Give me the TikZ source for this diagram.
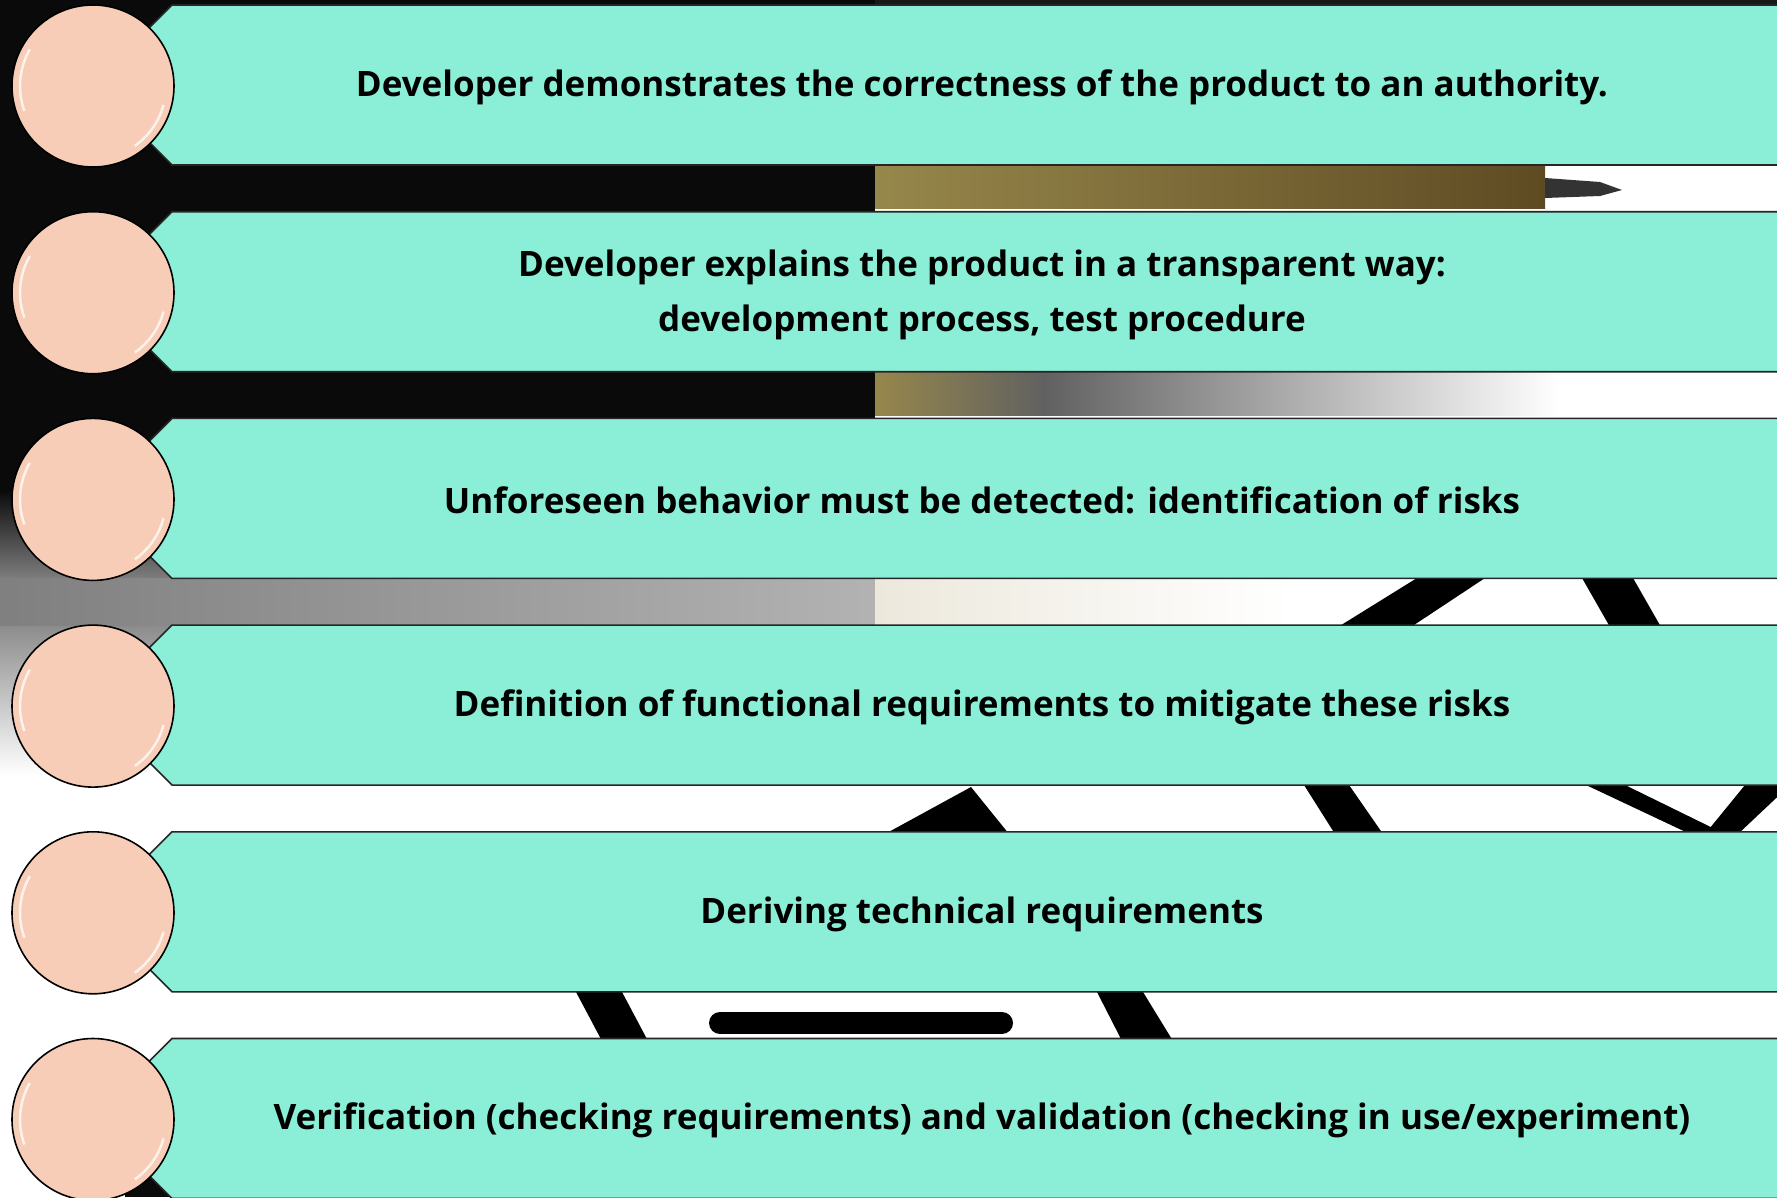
\documentclass[tikz,border=0pt]{standalone}
\usepackage{fontspec}
\setsansfont{Open Sans}
\usetikzlibrary{positioning}

\definecolor{bandaqua}{RGB}{139,238,214}
\definecolor{peach}{RGB}{247,205,183}
\definecolor{goldlight}{RGB}{150,135,75}
\definecolor{golddark}{RGB}{95,75,35}
\definecolor{beige}{RGB}{236,232,220}

\begin{document}
\begin{tikzpicture}[x=1pt,y=-1pt,font=\sffamily\bfseries\fontsize{35}{55}\selectfont,
  band/.style={fill=bandaqua, draw=black!85, line width=1.6pt, line join=miter},
  bullet/.style={circle, fill=peach, draw=black, line width=1.6pt, minimum size=162pt, inner sep=0pt,
    path picture={
      \draw[white, line width=2.5pt, opacity=.75] (path picture bounding box.center) ++(160:73) arc (160:210:73);
      \draw[white, line width=2.5pt, opacity=.75] (path picture bounding box.center) ++(15:73) arc (15:55:73);}},
  stroke/.style={fill=black},
  steptext/.style={text=black, align=center}]

  \useasboundingbox (0,0) rectangle (1777,1197);
  \clip (0,0) rectangle (1777,1197);

  % Photo behind the list
  \fill[white] (0,0) rectangle (1777,1197);
  \fill[black!96] (0,0) rectangle (875,490);
  \fill[black!90] (875,0) rectangle (1777,6);
  \shade[top color=black!96, bottom color=black!50] (0,490) rectangle (875,580);
  \shade[left color=black!50, right color=black!30] (0,578) rectangle (875,627);
  \shade[top color=black!45, bottom color=white] (0,626) rectangle (875,775);
  \shade[left color=beige, right color=white] (875,578) rectangle (1290,627);
  \fill[black!96] (125,1172) rectangle (175,1197);

  % Gold pen in the upper gaps
  \shade[left color=goldlight, right color=golddark] (875,163) rectangle (1545,208);
  \fill[black!80] (1545,178) -- (1600,182) -- (1622,190) -- (1600,196) -- (1545,198) -- cycle;
  \shade[left color=goldlight, right color=black!62] (875,370) rectangle (1045,415);
  \shade[left color=black!62, right color=white] (1045,370) rectangle (1560,415);

  % Black lines in the lower gaps
  \fill[stroke] (1417,578) -- (1485,578) -- (1411,627) -- (1338,627) -- cycle;
  \fill[stroke] (1582,578) -- (1633,578) -- (1661,627) -- (1610,627) -- cycle;
  \fill[stroke] (971,787) -- (1009,834) -- (885,834) -- cycle;
  \fill[stroke] (1304,785) -- (1349,785) -- (1383,834) -- (1335,834) -- cycle;
  \fill[stroke] (1586,785) -- (1625,785) -- (1725,834) -- (1690,834) -- cycle;
  \fill[stroke] (1745,785) -- (1790,785) -- (1738,834) -- (1705,834) -- cycle;
  \fill[stroke] (576,992) -- (622,992) -- (648,1041) -- (602,1041) -- cycle;
  \draw[black, line width=22pt, line cap=round] (720,1023) -- (1002,1023);
  \fill[stroke] (1097,992) -- (1143,992) -- (1173,1041) -- (1122,1041) -- cycle;

  % Bands
  \draw[band] (172,5) -- (1790,5) -- (1790,165) -- (172,165) -- (92,85) -- cycle;
  \draw[band] (172,211.7) -- (1790,211.7) -- (1790,371.7) -- (172,371.7) -- (92,291.7) -- cycle;
  \draw[band] (172,418.4) -- (1790,418.4) -- (1790,578.4) -- (172,578.4) -- (92,498.4) -- cycle;
  \draw[band] (172,625.1) -- (1790,625.1) -- (1790,785.1) -- (172,785.1) -- (92,705.1) -- cycle;
  \draw[band] (172,831.8) -- (1790,831.8) -- (1790,991.8) -- (172,991.8) -- (92,911.8) -- cycle;
  \draw[band] (172,1038.5) -- (1790,1038.5) -- (1790,1198.5) -- (172,1198.5) -- (92,1118.5) -- cycle;

  % Bullets
  \node[bullet] (dot1) at (93,86) {};
  \node[bullet] (dot2) at (93,292.7) {};
  \node[bullet] (dot3) at (93,499.4) {};
  \node[bullet] (dot4) at (93,706.1) {};
  \node[bullet] (dot5) at (93,912.8) {};
  \node[bullet] (dot6) at (93,1119.5) {};

  % Steps
  \node[steptext] (authority) at (982,87) {Developer demonstrates the correctness of the product to an authority.};
  \node[steptext] (transparent) at (982,294.5) {Developer explains the product in a transparent way:\\development process, test procedure};
  \node[steptext] (risks) at (982,500.5) {Unforeseen behavior must be detected: identification of risks};
  \node[steptext] (functional) at (982,707.5) {Definition of functional requirements to mitigate these risks};
  \node[steptext] (technical) at (982,914) {Deriving technical requirements};
  \node[steptext] (verification) at (982,1120.5) {Verification (checking requirements) and validation (checking in use/experiment)};
\end{tikzpicture}
\end{document}
